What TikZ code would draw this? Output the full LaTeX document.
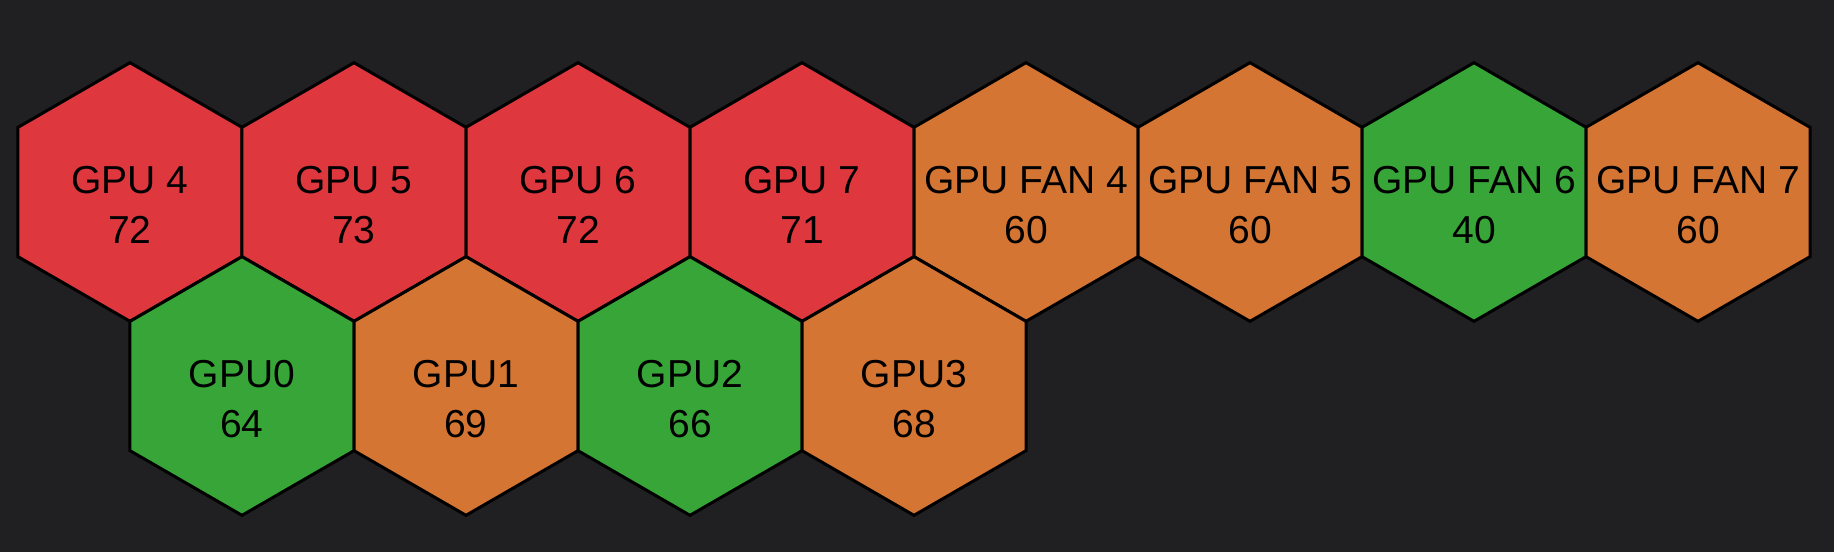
\documentclass[tikz,border=0pt]{standalone}
\usepackage{fontspec}
\setmainfont{Liberation Sans}
\definecolor{bg}{HTML}{202022}
\definecolor{hred}{HTML}{DE373D}
\definecolor{horange}{HTML}{D57533}
\definecolor{hgreen}{HTML}{37A537}
\tikzset{
  hexcell/.style={draw=black,line width=3pt,line join=miter},
  celltext/.style={anchor=base,inner sep=0pt,text=black,font=\fontsize{39}{47}\selectfont}
}
\newcommand\hexcellat[6]{%
  \begin{scope}[shift={(#2,#3)}]
    \path[hexcell,fill=#4] (30:129.33) -- (90:129.33) -- (150:129.33) -- (210:129.33) -- (270:129.33) -- (330:129.33) -- cycle;
    \coordinate (#1) at (0,0);
    \node[celltext] (#1-a) at (0,1) {#5};
    \node[celltext] (#1-b) at (0,51) {#6};
  \end{scope}
}
\begin{document}
\begin{tikzpicture}[x=1pt,y=-1pt]
\fill[bg] (0,0) rectangle (1834,552);
\useasboundingbox (0,0) rectangle (1834,552);
\hexcellat{g4}{130}{192}{hred}{GPU 4}{72}
\hexcellat{g5}{354}{192}{hred}{GPU 5}{73}
\hexcellat{g6}{578}{192}{hred}{GPU 6}{72}
\hexcellat{g7}{802}{192}{hred}{GPU 7}{71}
\hexcellat{f4}{1026}{192}{horange}{GPU FAN 4}{60}
\hexcellat{f5}{1250}{192}{horange}{GPU FAN 5}{60}
\hexcellat{f6}{1474}{192}{hgreen}{GPU FAN 6}{40}
\hexcellat{f7}{1698}{192}{horange}{GPU FAN 7}{60}
\hexcellat{g0}{242}{386}{hgreen}{GPU0}{64}
\hexcellat{g1}{466}{386}{horange}{GPU1}{69}
\hexcellat{g2}{690}{386}{hgreen}{GPU2}{66}
\hexcellat{g3}{914}{386}{horange}{GPU3}{68}
\end{tikzpicture}
\end{document}
